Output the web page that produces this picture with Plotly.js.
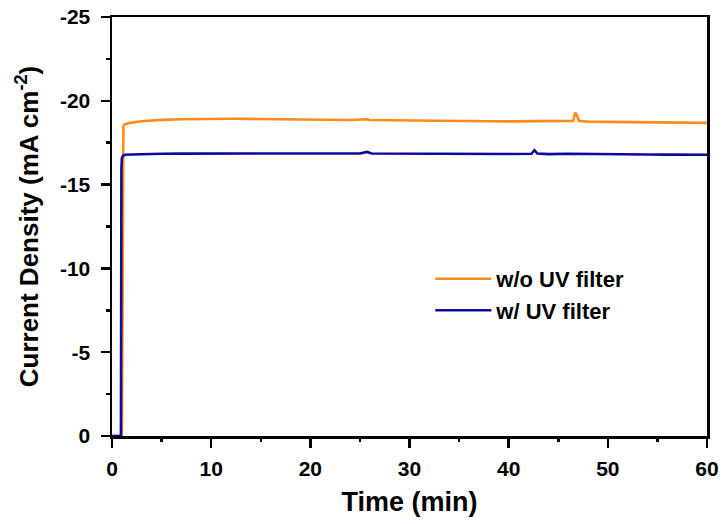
<!DOCTYPE html>
<html>
<head>
<meta charset="utf-8">
<script src="https://cdn.plot.ly/plotly-3.0.1.min.js"></script>
<style>html,body{margin:0;padding:0;background:#fff;}#chart{width:723px;height:524px;}</style>
</head>
<body>
<div id="chart"></div>
<script>
// Time (min)
const tOrange = [0, 1.0, 1.05, 1.1, 1.15, 1.3, 2, 3, 4, 5, 7, 9, 10, 12, 14, 16, 18, 20, 22, 24, 25.7, 26, 28, 30, 32, 34, 36, 38, 40, 42, 44, 46, 46.5, 46.7, 46.9, 47.1, 48, 50, 52, 54, 56, 58, 60];
const jOrange = [0, 0, -6.2, -17.0, -18.5, -18.6, -18.7, -18.78, -18.83, -18.86, -18.9, -18.92, -18.93, -18.93, -18.92, -18.9, -18.9, -18.88, -18.86, -18.85, -18.9, -18.85, -18.84, -18.82, -18.8, -18.8, -18.79, -18.78, -18.77, -18.77, -18.76, -18.76, -18.8, -19.3, -19.1, -18.8, -18.75, -18.74, -18.72, -18.71, -18.7, -18.7, -18.68];
const tBlue = [0, 0.9, 0.95, 1.0, 1.1, 1.3, 2, 3, 5, 7, 10, 13, 16, 19, 22, 25, 25.7, 26.2, 28, 31, 34, 37, 40, 42.3, 42.6, 42.9, 44, 46, 48, 50, 52, 54, 56, 58, 60];
const jBlue = [0, 0, -16.0, -16.6, -16.72, -16.78, -16.8, -16.82, -16.84, -16.85, -16.86, -16.86, -16.86, -16.86, -16.86, -16.86, -16.95, -16.86, -16.85, -16.85, -16.84, -16.84, -16.83, -16.84, -17.05, -16.85, -16.82, -16.84, -16.82, -16.8, -16.8, -16.8, -16.79, -16.78, -16.78];
const seriesNames = ['w/o UV filter', 'w/ UV filter'];
const yTickVals = [0, -5, -10, -15, -20, -25];
const yTickText = ['0', '-5', '-10', '-15', '-20', '-25'];
const yMinorVals = [-2.5, -7.5, -12.5, -17.5, -22.5];
const xTickVals = [0, 10, 20, 30, 40, 50, 60];
const xMinorVals = [5, 15, 25, 35, 45, 55];

const fam = 'Liberation Sans, Arial, sans-serif';

const traces = [
  {x: tOrange, y: jOrange, mode: 'lines', name: seriesNames[0], line: {color: '#FF8C1A', width: 2.6}},
  {x: tBlue, y: jBlue, mode: 'lines', name: seriesNames[1], line: {color: '#0A0A9E', width: 2.6}}
];

const layout = {
  width: 723, height: 524,
  margin: {l: 112, r: 16, t: 17, b: 88},
  paper_bgcolor: '#fff', plot_bgcolor: '#fff',
  showlegend: true,
  legend: {x: 0.535, y: 0.425, xanchor: 'left', yanchor: 'top', bgcolor: 'rgba(0,0,0,0)', itemwidth: 56,
    font: {family: fam, size: 22, color: '#000', weight: 'bold'}, tracegroupgap: 0},
  xaxis: {
    range: [0, 60], autorange: false,
    tickmode: 'array', tickvals: xTickVals,
    ticks: 'outside', ticklen: 9, tickwidth: 2.5, tickcolor: '#000',
    ticklabelstandoff: 3,
    showline: true, linewidth: 2.5, linecolor: '#000', mirror: true,
    showgrid: false, zeroline: false,
    tickfont: {family: fam, size: 21, color: '#000', weight: 'bold'},
    title: {text: 'Time (min)', font: {family: fam, size: 27, color: '#000', weight: 'bold'}, standoff: 14}
  },
  xaxis2: {
    overlaying: 'x', matches: 'x', range: [0, 60], autorange: false, side: 'bottom',
    tickmode: 'array', tickvals: xMinorVals, showticklabels: false,
    ticks: 'outside', ticklen: 5, tickwidth: 2.5, tickcolor: '#000',
    showline: false, showgrid: false, zeroline: false
  },
  yaxis: {
    range: [0, -25], autorange: false,
    tickmode: 'array', tickvals: yTickVals, ticktext: yTickText,
    ticks: 'outside', ticklen: 9, tickwidth: 2.5, tickcolor: '#000',
    ticklabelstandoff: 6,
    showline: true, linewidth: 2.5, linecolor: '#000', mirror: true,
    showgrid: false, zeroline: false,
    tickfont: {family: fam, size: 21, color: '#000', weight: 'bold'},
    title: {text: 'Current Density (mA cm<sup>-2</sup>)', font: {family: fam, size: 26, color: '#000', weight: 'bold'}, standoff: 14}
  },
  yaxis2: {
    overlaying: 'y', matches: 'y', range: [0, -25], autorange: false, side: 'left',
    tickmode: 'array', tickvals: yMinorVals, showticklabels: false,
    ticks: 'outside', ticklen: 5, tickwidth: 2.5, tickcolor: '#000',
    showline: false, showgrid: false, zeroline: false
  }
};

// invisible helper trace so the minor-tick axes are drawn
traces.push({x: [tOrange[0]], y: [jOrange[0]], xaxis: 'x2', yaxis: 'y2', mode: 'markers', marker: {opacity: 0}, showlegend: false, hoverinfo: 'skip'});

Plotly.newPlot('chart', traces, layout, {displayModeBar: false, staticPlot: true});
</script>
</body>
</html>
